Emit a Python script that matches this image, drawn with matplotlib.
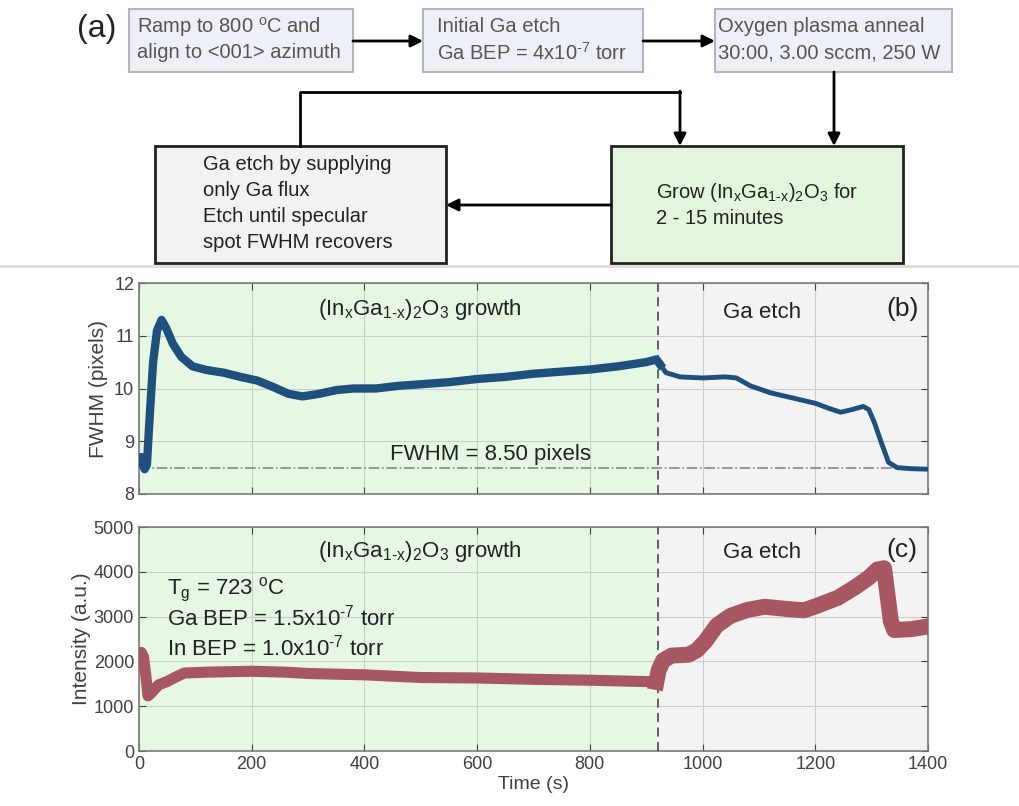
import numpy as np
import matplotlib
matplotlib.use('Agg')
import matplotlib.pyplot as plt
from matplotlib.patches import Rectangle

plt.rcParams['font.family'] = ['Liberation Sans', 'DejaVu Sans']
plt.rcParams['mathtext.fontset'] = 'custom'
plt.rcParams['mathtext.rm'] = 'Liberation Sans'
plt.rcParams['mathtext.it'] = 'Liberation Sans'

# FWHM trace (b)
t_fwhm = [0, 4, 7, 10, 14, 18, 25, 32, 40, 48, 60, 75, 95, 120, 150, 180, 210, 240,
          265, 290, 320, 350, 380, 420, 460, 500, 550, 600, 650, 700, 750, 800, 850,
          900, 918, 925, 935, 960, 1000, 1040, 1060, 1085, 1120, 1160, 1200, 1225,
          1245, 1265, 1285, 1295, 1305, 1318, 1330, 1345, 1370, 1400]
fwhm = [8.62, 8.70, 8.55, 8.47, 8.55, 9.3, 10.5, 11.1, 11.3, 11.15, 10.85, 10.6,
        10.42, 10.35, 10.3, 10.22, 10.15, 10.02, 9.9, 9.85, 9.9, 9.97, 10.0, 10.0,
        10.05, 10.08, 10.12, 10.18, 10.22, 10.28, 10.32, 10.36, 10.42, 10.5, 10.55,
        10.45, 10.3, 10.22, 10.2, 10.22, 10.2, 10.05, 9.92, 9.82, 9.72, 9.62, 9.55,
        9.6, 9.66, 9.6, 9.35, 8.95, 8.6, 8.5, 8.48, 8.47]

# RHEED intensity trace (c)
t_int = [0, 4, 8, 12, 16, 22, 35, 50, 65, 80, 120, 200, 260, 300, 400, 500, 600,
         700, 800, 900, 918, 922, 930, 945, 975, 990, 1005, 1025, 1050, 1080, 1110,
         1150, 1180, 1205, 1240, 1270, 1295, 1310, 1322, 1328, 1334, 1340, 1370, 1400]
intensity = [2050, 2200, 2100, 1700, 1230, 1300, 1480, 1550, 1650, 1740, 1760, 1780,
             1760, 1730, 1700, 1640, 1630, 1600, 1580, 1550, 1540, 1800, 2020, 2130,
             2150, 2250, 2450, 2800, 3020, 3150, 3220, 3170, 3140, 3250, 3420, 3650,
             3870, 4050, 4080, 3500, 2900, 2700, 2720, 2780]

t_switch = 921
fwhm_ref = 8.5
xticks = [0, 200, 400, 600, 800, 1000, 1200, 1400]

green_bg = '#e6f8e4'
gray_bg = '#f3f3f3'
blue = '#1f4f7c'
red = '#a65762'
frame = '#7a7a7a'

fig = plt.figure(figsize=(10.19, 8.06), dpi=100)

# ---------------- flowchart (a) in pixel coordinates ----------------
fa = fig.add_axes([0, 1 - 270/806, 1, 270/806])
fa.set_xlim(0, 1019)
fa.set_ylim(270, 0)
fa.axis('off')

def box(x0, y0, x1, y1, fc, ec, lw):
    fa.add_patch(Rectangle((x0, y0), x1 - x0, y1 - y0, fc=fc, ec=ec, lw=lw))

box(129, 9, 353, 72, '#eef0f8', '#b5b5c2', 1.5)
box(423, 9, 643, 72, '#eef0f8', '#b5b5c2', 1.5)
box(715, 9, 952, 72, '#eef0f8', '#b5b5c2', 1.5)
box(155, 146, 446, 263, '#f2f2f2', '#222222', 2)
box(611, 146, 903, 263, '#e3f5dc', '#222222', 2)

tc = '#555555'
fs = 14.5
fa.text(137, 27, 'Ramp to 800 $^{\\rm o}$C and', fontsize=fs, color=tc, va='center')
fa.text(137, 53, 'align to <001> azimuth', fontsize=fs, color=tc, va='center')
fa.text(437, 27, 'Initial Ga etch', fontsize=fs, color=tc, va='center')
fa.text(437, 53, 'Ga BEP = 4x10$^{\\text{-}7}$ torr', fontsize=fs, color=tc, va='center')
fa.text(718, 27, 'Oxygen plasma anneal', fontsize=fs, color=tc, va='center')
fa.text(718, 53, '30:00, 3.00 sccm, 250 W', fontsize=fs, color=tc, va='center')
fa.text(77, 29, '(a)', fontsize=23, color='#222222', va='center')

for i, s in enumerate(['Ga etch by supplying', 'only Ga flux',
                       'Etch until specular', 'spot FWHM recovers']):
    fa.text(203, 165 + 26*i, s, fontsize=fs, color='#222222', va='center')
fa.text(656, 192, 'Grow (In$_x$Ga$_{1\\text{-}x}$)$_2$O$_3$ for', fontsize=fs,
        color='#222222', va='center')
fa.text(656, 218, '2 - 15 minutes', fontsize=fs, color='#222222', va='center')

arr = dict(arrowstyle='-|>', color='black', lw=2, mutation_scale=18,
           shrinkA=0, shrinkB=0)
fa.annotate('', xy=(423, 41), xytext=(353, 41), arrowprops=arr)
fa.annotate('', xy=(715, 41), xytext=(643, 41), arrowprops=arr)
fa.annotate('', xy=(834, 146), xytext=(834, 72), arrowprops=arr)
fa.plot([300, 300, 680], [146, 92, 92], color='black', lw=2)
fa.annotate('', xy=(680, 146), xytext=(680, 91), arrowprops=arr)
fa.annotate('', xy=(446, 205), xytext=(611, 205), arrowprops=arr)
fa.plot([0, 1019], [266, 266], color='#dddddd', lw=2)

# ---------------- data panels ----------------
axb = fig.add_axes([139/1019, 1 - 494/806, 789/1019, 211/806])
axc = fig.add_axes([139/1019, 1 - 751/806, 789/1019, 224/806])

growth_lbl = '(In$_x$Ga$_{1\\text{-}x}$)$_2$O$_3$ growth'
tfs = 16

for ax in (axb, axc):
    ax.axvspan(0, t_switch, color=green_bg, zorder=0, lw=0)
    ax.axvspan(t_switch, 1400, color=gray_bg, zorder=0, lw=0)
    ax.axvline(t_switch, color='#555555', ls=(0, (5, 3)), lw=1.3, zorder=3)
    ax.set_xlim(0, 1400)
    ax.set_xticks(xticks)
    ax.grid(True, color='#cccccc', lw=0.8, zorder=1)
    ax.set_axisbelow(True)
    ax.tick_params(direction='in', top=True, right=True, labelsize=13,
                   colors='#404040', length=5)
    for s in ax.spines.values():
        s.set_color(frame)
        s.set_linewidth(1.2)

# (b)
tf = np.array(t_fwhm)
vf = np.array(fwhm)
g = tf <= 925
axb.plot(tf[g], vf[g], color=blue, lw=6, solid_joinstyle='round', zorder=4)
axb.plot(tf[tf >= 918], vf[tf >= 918], color=blue, lw=3.5, solid_joinstyle='round', zorder=4)
axb.axhline(fwhm_ref, color='#888888', ls='-.', lw=1.2, zorder=2)
axb.set_ylim(8, 12)
axb.set_yticks([8, 9, 10, 11, 12])
axb.set_xticklabels([])
axb.set_ylabel('FWHM (pixels)', fontsize=15, color='#404040', labelpad=4)
axb.text(499, 11.5, growth_lbl, fontsize=tfs, ha='center', va='center', color='#222222')
axb.text(1106, 11.45, 'Ga etch', fontsize=tfs, ha='center', va='center', color='#222222')
axb.text(1354, 11.5, '(b)', fontsize=19, ha='center', va='center', color='#222222')
axb.text(623, 8.75, 'FWHM = %.2f pixels' % fwhm_ref, fontsize=tfs, ha='center',
         va='center', color='#222222')

# (c)
ti = np.array(t_int)
vi = np.array(intensity)
g = ti <= 920
axc.plot(ti[g], vi[g], color=red, lw=8, solid_joinstyle='round', zorder=4)
axc.plot(ti[ti >= 918], vi[ti >= 918], color=red, lw=11.5, solid_joinstyle='round', zorder=4)
axc.set_ylim(0, 5000)
axc.set_yticks([0, 1000, 2000, 3000, 4000, 5000])
axc.set_ylabel('Intensity (a.u.)', fontsize=15, color='#404040', labelpad=2)
axc.set_xlabel('Time (s)', fontsize=14, color='#404040', labelpad=2)
axc.text(499, 4450, growth_lbl, fontsize=tfs, ha='center', va='center', color='#222222')
axc.text(1106, 4430, 'Ga etch', fontsize=tfs, ha='center', va='center', color='#222222')
axc.text(1354, 4480, '(c)', fontsize=19, ha='center', va='center', color='#222222')
axc.text(50, 3600, 'T$_g$ = 723 $^{\\rm o}$C', fontsize=tfs, va='center', color='#222222')
axc.text(50, 2970, 'Ga BEP = 1.5x10$^{\\text{-}7}$ torr', fontsize=tfs, va='center', color='#222222')
axc.text(50, 2320, 'In BEP = 1.0x10$^{\\text{-}7}$ torr', fontsize=tfs, va='center', color='#222222')

fig.savefig('out.png', dpi=100)
